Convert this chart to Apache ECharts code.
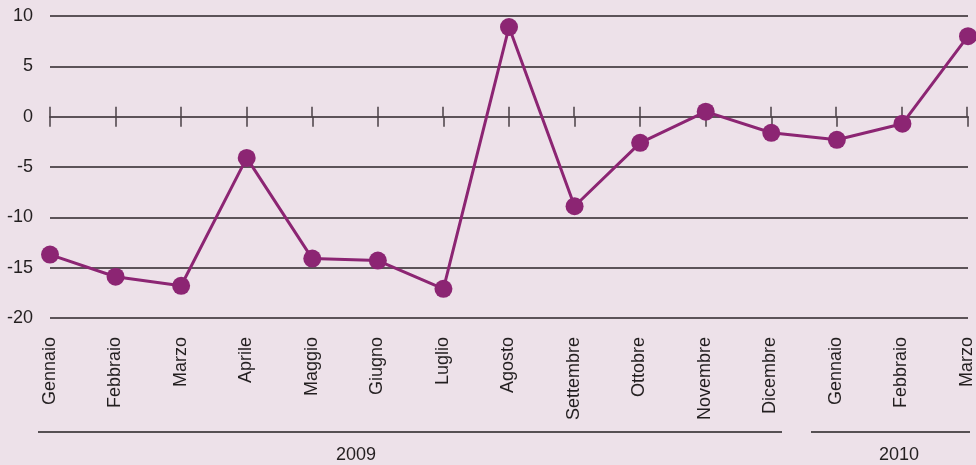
<!DOCTYPE html>
<html>
<head>
<meta charset="utf-8">
<script src="https://cdn.jsdelivr.net/npm/echarts@6/dist/echarts.min.js"></script>
<style>
html,body{margin:0;padding:0;background:#ede1e9;}
#c{width:976px;height:465px;}
</style>
</head>
<body>
<div id="c"></div>
<script>
var months = ['Gennaio','Febbraio','Marzo','Aprile','Maggio','Giugno','Luglio','Agosto','Settembre','Ottobre','Novembre','Dicembre','Gennaio','Febbraio','Marzo'];
var values = [-13.7,-15.9,-16.8,-4.1,-14.1,-14.3,-17.1,8.9,-8.9,-2.6,0.5,-1.6,-2.3,-0.7,8.0];
var years = ['2009','2010'];
var yTicks = {min:-20, max:10, interval:5};

var FONT = 'Liberation Sans';
var TXT = '#231f20';
var chart = echarts.init(document.getElementById('c'), null, {renderer:'canvas'});
var gridDef = {left:50, right:8, top:16, bottom:147};
chart.setOption({
  backgroundColor:'#ede1e9',
  animation:false,
  grid:[Object.assign({}, gridDef), Object.assign({}, gridDef)],
  xAxis:[
    {type:'category', gridIndex:0, data:months, boundaryGap:false, position:'bottom',
     axisLine:{onZero:true, lineStyle:{color:'#5d5359', width:2}},
     axisTick:{show:true, interval:0, length:10, lineStyle:{color:'#4a4046', width:1.5}},
     axisLabel:{show:false}, splitLine:{show:false}},
    {type:'category', gridIndex:1, data:months, boundaryGap:false, position:'top',
     axisLine:{show:false, onZero:true},
     axisTick:{show:true, interval:0, length:10, lineStyle:{color:'#4a4046', width:1.5}},
     axisLabel:{show:false}, splitLine:{show:false}},
    {type:'category', gridIndex:1, data:months, boundaryGap:false, position:'bottom',
     axisLine:{show:false, onZero:false}, axisTick:{show:false},
     axisLabel:{show:true, rotate:90, margin:19, interval:0, color:TXT, fontFamily:FONT, fontSize:18}}
  ],
  yAxis:[
    {type:'value', gridIndex:0, min:yTicks.min, max:yTicks.max, interval:yTicks.interval,
     axisLine:{show:false}, axisTick:{show:false},
     axisLabel:{margin:17, color:TXT, fontFamily:FONT, fontSize:18},
     splitLine:{lineStyle:{color:'#2b2327', width:1.5}}},
    {type:'value', gridIndex:1, min:yTicks.min, max:yTicks.max, interval:yTicks.interval,
     axisLine:{show:false}, axisTick:{show:false}, axisLabel:{show:false}, splitLine:{show:false}}
  ],
  series:[{
    type:'line', xAxisIndex:0, yAxisIndex:0, data:values,
    symbol:'circle', symbolSize:18,
    lineStyle:{color:'#8c2573', width:3},
    itemStyle:{color:'#8c2573'},
    z:5
  }],
  graphic:[
    {type:'line', shape:{x1:38,y1:432,x2:782,y2:432}, style:{stroke:'#231f20', lineWidth:1.5}},
    {type:'line', shape:{x1:811,y1:432,x2:970,y2:432}, style:{stroke:'#231f20', lineWidth:1.5}},
    {type:'text', x:356, y:455, style:{text:years[0], fill:TXT, font:'18px "Liberation Sans"', textAlign:'center', textVerticalAlign:'middle'}},
    {type:'text', x:899, y:455, style:{text:years[1], fill:TXT, font:'18px "Liberation Sans"', textAlign:'center', textVerticalAlign:'middle'}}
  ]
});
</script>
</body>
</html>
